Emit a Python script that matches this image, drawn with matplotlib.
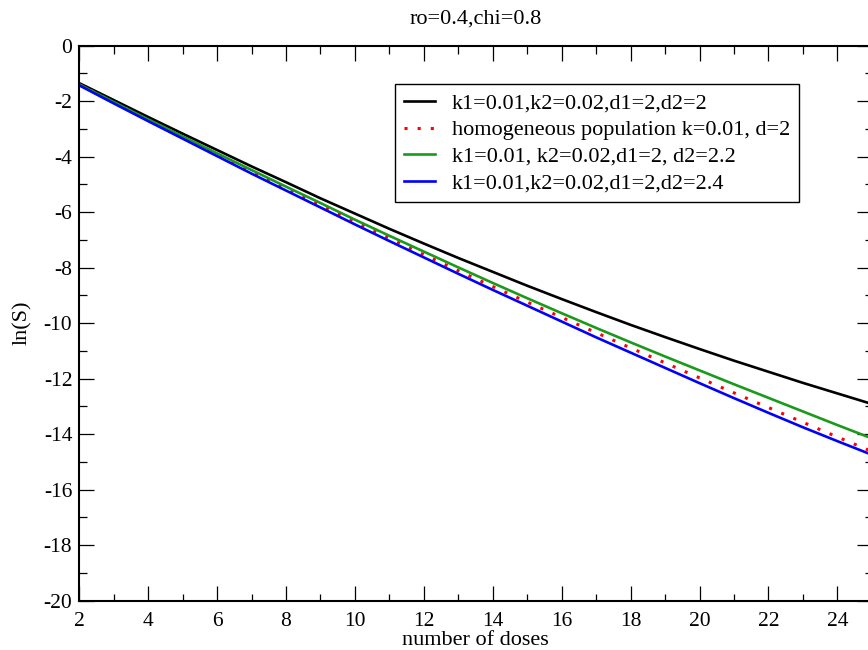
import matplotlib
matplotlib.use("Agg")
import matplotlib.pyplot as plt
from matplotlib.ticker import MultipleLocator

plt.rcParams['font.family'] = ['Liberation Serif', 'DejaVu Serif']
plt.rcParams['axes.unicode_minus'] = False

doses = list(range(2, 26))

black_vals = [-1.35, -1.96, -2.57, -3.17, -3.76, -4.35, -4.92, -5.50, -6.05, -6.60,
              -7.13, -7.65, -8.15, -8.65, -9.13, -9.60, -10.06, -10.50, -10.93,
              -11.35, -11.75, -12.15, -12.53, -12.91]
red_vals = [-1.40, -2.04, -2.67, -3.30, -3.92, -4.53, -5.14, -5.75, -6.35, -6.94,
            -7.53, -8.11, -8.68, -9.24, -9.79, -10.34, -10.89, -11.43, -11.97,
            -12.51, -13.04, -13.57, -14.10, -14.62]
green_vals = [-1.40, -2.03, -2.66, -3.27, -3.88, -4.48, -5.08, -5.67, -6.27, -6.85,
              -7.42, -7.99, -8.55, -9.10, -9.64, -10.17, -10.69, -11.20, -11.70,
              -12.20, -12.69, -13.18, -13.67, -14.15]
blue_vals = [-1.43, -2.08, -2.72, -3.35, -3.98, -4.61, -5.22, -5.83, -6.44, -7.04,
             -7.63, -8.22, -8.80, -9.37, -9.94, -10.51, -11.06, -11.61, -12.16,
             -12.70, -13.23, -13.75, -14.25, -14.74]

labels = ["k1=0.01,k2=0.02,d1=2,d2=2",
          "homogeneous population k=0.01, d=2",
          "k1=0.01, k2=0.02,d1=2, d2=2.2",
          "k1=0.01,k2=0.02,d1=2,d2=2.4"]

title = "ro=0.4,chi=0.8"
xlabel = "number of doses"
ylabel = "ln(S)"

fig = plt.figure(figsize=(8.68, 6.5), dpi=100)
ax = fig.add_axes([79.3 / 868, 1 - 600.7 / 650, 792.5 / 868, 555 / 650])

lw = 1.9
ax.plot(doses, black_vals, color='black', lw=lw, label=labels[0])
ax.plot(doses, red_vals, color='red', lw=2.2, linestyle=(0, (1, 3.3)),
        dash_capstyle='butt', label=labels[1])
ax.plot(doses, green_vals, color='#1a9a1a', lw=lw, label=labels[2])
ax.plot(doses, blue_vals, color='#0000ff', lw=lw, label=labels[3])

ax.set_xlim(2, 25)
ax.set_ylim(-20, 0)
ax.xaxis.set_major_locator(MultipleLocator(2))
ax.xaxis.set_minor_locator(MultipleLocator(1))
ax.yaxis.set_major_locator(MultipleLocator(2))
ax.yaxis.set_minor_locator(MultipleLocator(1))
ax.tick_params(which='both', direction='in', top=True, right=True,
               labelsize=15.5, width=0.9, color='black')
ax.tick_params(which='major', length=10.8)
ax.tick_params(which='minor', length=5.4)
ax.tick_params(axis='x', which='major', pad=8)
ax.tick_params(axis='y', which='major', pad=5)
for s in ax.spines.values():
    s.set_linewidth(1.5)

ax.set_title(title, fontsize=16, pad=16)
ax.set_xlabel(xlabel, fontsize=16, labelpad=0)
ax.set_ylabel(ylabel, fontsize=16, labelpad=8)

leg = ax.legend(loc='upper left', bbox_to_anchor=((395 - 79.3) / 792.5, (600.7 - 84.3) / 555),
                borderaxespad=0, fontsize=16, frameon=True, fancybox=False,
                edgecolor='black', handlelength=1.4, handletextpad=0.75,
                labelspacing=0.27, borderpad=0.4)
leg.get_frame().set_linewidth(1.0)
leg.get_frame().set_alpha(1.0)

fig.savefig("out.png", dpi=100)
